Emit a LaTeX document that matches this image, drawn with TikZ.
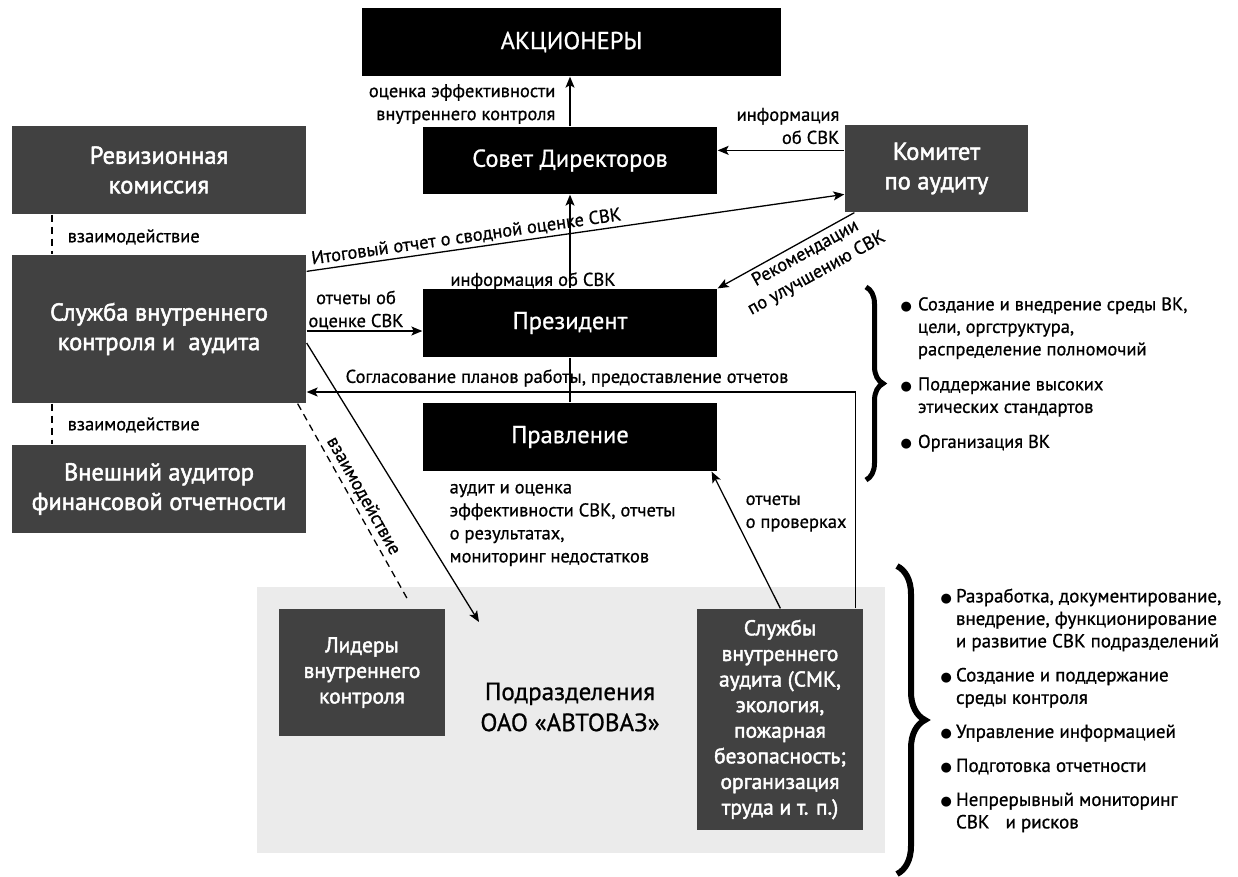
\documentclass[tikz,border=0pt]{standalone}
\usepackage{fontspec}
\setmainfont{PT Sans}[UprightFeatures={FakeBold=0.8}]
\newfontfamily\semifont{PT Sans}[FakeBold=2]
\newfontfamily\dotfont{DejaVu Sans}
\usetikzlibrary{decorations.pathreplacing, arrows.meta}
\definecolor{boxgrey}{HTML}{414141}
\definecolor{areagrey}{HTML}{EBEBEB}
\newcommand\bul{{\dotfont\fontsize{13}{13}\selectfont ●}}
\tikzset{
  black box/.style={
    fill=black,
    text=white,
    align=center,
    inner sep=0pt,
    font=\fontsize{24.5}{30}\selectfont,
  },
  grey box/.style={
    black box,
    fill=boxgrey,
    font=\semifont\fontsize{24.5}{29.5}\selectfont,
  },
  small box/.style={
    grey box,
    font=\semifont\fontsize{21.5}{25.6}\selectfont,
  },
  note/.style={
    inner sep=0pt,
    font=\fontsize{18.5}{23}\selectfont,
  },
  link/.style={
    dash pattern=on 7pt off 5pt,
  },
  big brace/.style={
    decorate,
    decoration={brace, amplitude=#1},
  },
}

\begin{document}
\begin{tikzpicture}[x=1pt, y=-1pt, line width=1.3pt, >={Stealth[length=11pt, width=9pt, inset=2.5pt]}]
      \useasboundingbox (0,0) rectangle (1238,876);

      % grey field of the divisions
      \node[fill=areagrey, inner sep=0pt, minimum width=628, minimum height=266] (area) at (571,720) {};

      \node[black box, minimum width=419, minimum height=68] (akc)     at (571.5,42)  {АКЦИОНЕРЫ};
      \node[black box, minimum width=294, minimum height=67] (sovet)   at (570,160.5) {Совет Директоров};
      \node[black box, minimum width=294, minimum height=68] (prez)    at (570,323)   {Президент};
      \node[black box, minimum width=294, minimum height=68] (pravl)   at (570,437)   {Правление};

      \node[grey box, minimum width=183, minimum height=87]  (komitet) at (936.5,168.5) {Комитет\\по аудиту};
      \node[grey box, minimum width=294, minimum height=88]  (revkom)  at (159,170)   {Ревизионная\\комиссия};
      \node[grey box, minimum width=294, minimum height=148] (sluzhba) at (159,329)   {Служба внутреннего\\контроля и~ аудита};
      \node[grey box, minimum width=294, minimum height=88]  (vneshn)  at (159,489)   {Внешний аудитор\\финансовой отчетности};

      \node[small box, minimum width=166, minimum height=127] (lidery)  at (362,672.5) {Лидеры\\внутреннего\\контроля};
      \node[small box, minimum width=166, minimum height=221] (sluzhby) at (780,719.5)
        {Службы\\внутреннего\\аудита (СМК,\\экология,\\пожарная\\безопасность;\\организация\\труда и т. п.)};
      \node[note, align=center, font=\fontsize{25}{31}\selectfont] (podr) at (570,707) {Подразделения\\ОАО «АВТОВАЗ»};

      \coordinate (k1)     at ([yshift=-26pt]komitet.north west);
      \coordinate (s1)     at ([yshift=-2pt]sluzhba.east);
      \coordinate (agree)  at ([yshift=-63pt]sluzhba.east);
      \coordinate (podrIn) at (479,622);
      \coordinate (lidIn)  at (408,600);

      \path[->] (sovet.north) edge (sovet.north |- akc.south);
      \path[->] (prez.north)  edge (sovet.south);
      \draw (pravl.north) -- (prez.south);

      \path[->] (k1) edge (k1 -| sovet.east);
      \path[->] ([yshift=-17pt]sluzhba.north east) edge
        node[note, sloped, above=3pt, pos=0.3] (itog) {Итоговый отчет о сводной оценке СВК}
        ([yshift=-70pt]komitet.north west);
      \path[->] ([xshift=10pt]komitet.south west) edge
        node[note, sloped, below=3pt, pos=0.4, align=center] (rekom) {Рекомендации\\по улучшению СВК}
        (prez.north east);

      \path[->] (s1) edge (s1 -| prez.west);
      \path[->] ([yshift=-14pt]sluzhba.east) edge (podrIn);
      \draw[->] ([xshift=-8pt]sluzhby.north east) |- (agree);
      \path[->] ([xshift=84pt]sluzhby.north west) edge ([xshift=-6pt]pravl.south east);

      \draw[link] ([xshift=-9pt]sluzhba.south east) --
        node[note, sloped, above=4pt] (vz3) {взаимодействие} (lidIn);
      \draw[link] ([xshift=-107pt]revkom.south)  -- ([xshift=-107pt]sluzhba.north);
      \draw[link] ([xshift=-107pt]sluzhba.south) -- ([xshift=-107pt]vneshn.north);

      \node[note, anchor=east, align=right] (l1) at (556,104) {оценка эффективности\\внутреннего контроля};
      \node[note, anchor=east, align=right] (l2) at (840,126) {информация\\об СВК};
      \node[note] (l3) at (533,281) {информация об СВК};
      \node[note, align=center] (l4) at (356,310) {отчеты об\\оценке СВК};
      \node[note] (l5) at (567,378) {Согласование планов работы, предоставление отчетов};
      \node[note, anchor=west, align=left] (l6) at (449,525)
        {аудит и оценка\\эффективности СВК, отчеты\\о результатах,\\мониторинг недостатков};
      \node[note, anchor=west, align=left] (l7) at (745,513.5) {отчеты\\о проверках};
      \node[note, anchor=west] (vz1) at (67,237) {взаимодействие};
      \node[note, anchor=west] (vz2) at (67,425) {взаимодействие};

      \draw[big brace=17, line width=5pt] (866,287) -- (866,480);
      \draw[big brace=28, line width=6pt] (897,566) -- (897,874);

      \node[note, anchor=north west, font=\fontsize{18.5}{22.5}\selectfont] (list1) at (900,294) {%
        \begin{tabular}{@{}l@{\hspace{6pt}}l@{}}
          \bul & Создание и внедрение среды ВК,\\
               & цели, оргструктура,\\
               & распределение полномочий\\[12.5pt]
          \bul & Поддержание высоких\\
               & этических стандартов\\[12.5pt]
          \bul & Организация ВК
        \end{tabular}};
      \node[note, anchor=north west, font=\fontsize{19}{22.5}\selectfont] (list2) at (940,586) {%
        \begin{tabular}{@{}l@{\hspace{4pt}}l@{}}
          \bul & Разработка, документирование,\\
               & внедрение, функционирование\\
               & и развитие СВК подразделений\\[11.5pt]
          \bul & Создание и поддержание\\
               & среды контроля\\[11.5pt]
          \bul & Управление информацией\\[11.5pt]
          \bul & Подготовка отчетности\\[11.5pt]
          \bul & Непрерывный мониторинг\\
               & СВК\hspace{16pt}и рисков
        \end{tabular}};
\end{tikzpicture}
\end{document}
